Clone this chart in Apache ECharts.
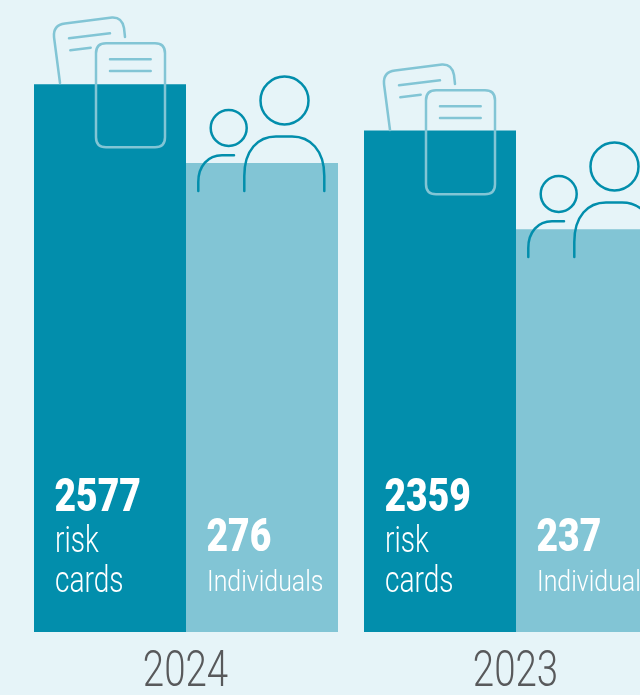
<!DOCTYPE html>
<html>
<head>
<meta charset="utf-8">
<style>
  html, body { margin: 0; padding: 0; background: #e6f4f8; }
  #chart { width: 640px; height: 695px; }
</style>
<script src="https://cdn.jsdelivr.net/npm/echarts@6/dist/echarts.min.js"></script>
</head>
<body>
<div id="chart"></div>
<script>
const years = ['2024', '2023']
const riskCards = [2577, 2359]
const individuals = [276, 237]
const riskCardsName = ['risk', 'cards']
const individualsName = ['Individuals']

const DARK = '#028eac'
const LIGHT = '#82c5d5'
const FONT = 'Roboto, sans-serif'
const BAR_WIDTH = 152

// the graphic component has no plain path type, so the icon outlines get registered
const iconPaths = {
  cardBack: 'M60 83 L54 37 Q53 25 65 23.5 L112 17.5 Q122 17 124 28 L125 37',
  cardBackLines: 'M69 38.3 L110 33.3 M70.3 50.3 L90.7 47.7',
  cardFront: 'M106 43.3 H155 Q165 43.3 165 53.3 V137.3 Q165 147.3 155 147.3 H106 Q96 147.3 96 137.3 V53.3 Q96 43.3 106 43.3 Z',
  cardFrontLines: 'M110 59.3 H150.7 M110 71 H150.7',
  bodyBig: 'M244.3 191 V176 C244.3 150 258 136.5 276 136.5 H292 C310 136.5 324.3 150 324.3 176 V191',
  bodySmall: 'M198.3 191 V182 C198.3 166 208 155.3 222 155.3 H234'
}
Object.keys(iconPaths).forEach(name => {
  echarts.graphic.registerShape(name, echarts.graphic.extendPath(iconPaths[name]))
})

const line = (name, color, dx, dy) => ({
  type: name,
  x: dx,
  y: dy,
  z: 10,
  silent: true,
  style: { fill: 'none', stroke: color, lineWidth: 2.5, lineCap: 'round', lineJoin: 'round' }
})

// decoration above the bars, dx/dy shift the 2024 drawing over to 2023
const cardsIcon = (dx, dy) => [
  line('cardBack', LIGHT, dx, dy),
  line('cardBackLines', LIGHT, dx, dy),
  line('cardFront', LIGHT, dx, dy),
  line('cardFrontLines', LIGHT, dx, dy)
]

const peopleIcon = (dx, dy) => [
  { type: 'circle', x: dx, y: dy, z: 10, silent: true, shape: { cx: 284.5, cy: 100.5, r: 24 }, style: { fill: 'none', stroke: DARK, lineWidth: 2.5 } },
  { type: 'circle', x: dx, y: dy, z: 10, silent: true, shape: { cx: 228.7, cy: 128, r: 18 }, style: { fill: 'none', stroke: DARK, lineWidth: 2.5 } },
  line('bodyBig', DARK, dx, dy),
  line('bodySmall', DARK, dx, dy)
]

// no condensed font is installed, so the text is squeezed horizontally instead
const squeezed = (text, x, y, size, weight, color, align, scaleX) => ({
  type: 'text',
  x,
  y,
  scaleX,
  silent: true,
  style: { text, x: 0, y: 0, fontSize: size, fontFamily: FONT, fontWeight: weight, fill: color, align: align || 'left', verticalAlign: 'bottom' }
})

const renderTexts = (params, api) => {
  const i = params.dataIndex
  const [cx, y0] = api.coord([i, 0])
  const left = cx - BAR_WIDTH + 21
  const right = cx + 21
  return {
    type: 'group',
    children: [
      squeezed(String(riskCards[i]), left - 0.5, y0 - 110, 46, 900, '#fff', 'left', 0.81),
      squeezed(riskCardsName[0], left, y0 - 71, 36, 300, '#fff', 'left', 0.78),
      squeezed(riskCardsName[1], left, y0 - 31, 36, 300, '#fff', 'left', 0.78),
      squeezed(String(individuals[i]), right - 0.5, y0 - 70, 46, 900, '#fff', 'left', 0.81),
      squeezed(individualsName[0], right, y0 - 34, 30, 300, '#fff', 'left', 0.83),
      squeezed(years[i], cx - 0.5, y0 + 66, 50, 300, '#58595b', 'center', 0.77)
    ]
  }
}

const chart = echarts.init(document.getElementById('chart'))

chart.setOption({
  backgroundColor: '#e6f4f8',
  animation: false,
  grid: { left: 21, top: 0, width: 660, height: 632, outerBoundsMode: 'none' },
  xAxis: {
    type: 'category',
    data: years,
    axisLine: { show: false },
    axisTick: { show: false },
    axisLabel: { show: false }
  },
  // the two measures have their own scale, like the original
  yAxis: [
    { type: 'value', min: 0, max: 2973, show: false, splitLine: { show: false } },
    { type: 'value', min: 0, max: 372, show: false, splitLine: { show: false } }
  ],
  series: [
    {
      name: 'risk cards',
      type: 'bar',
      yAxisIndex: 0,
      data: riskCards,
      barWidth: BAR_WIDTH,
      barGap: 0,
      itemStyle: { color: DARK }
    },
    {
      name: 'Individuals',
      type: 'bar',
      yAxisIndex: 1,
      data: individuals,
      barWidth: BAR_WIDTH,
      barGap: 0,
      itemStyle: { color: LIGHT }
    },
    {
      name: 'labels',
      type: 'custom',
      clip: false,
      z: 5,
      data: years.map((y, i) => [i]),
      encode: { x: 0 },
      renderItem: renderTexts
    }
  ],
  graphic: {
    elements: [
      ...cardsIcon(0, 0),
      ...cardsIcon(330, 47),
      ...peopleIcon(0, 0),
      ...peopleIcon(330, 66)
    ]
  }
})
</script>
</body>
</html>
